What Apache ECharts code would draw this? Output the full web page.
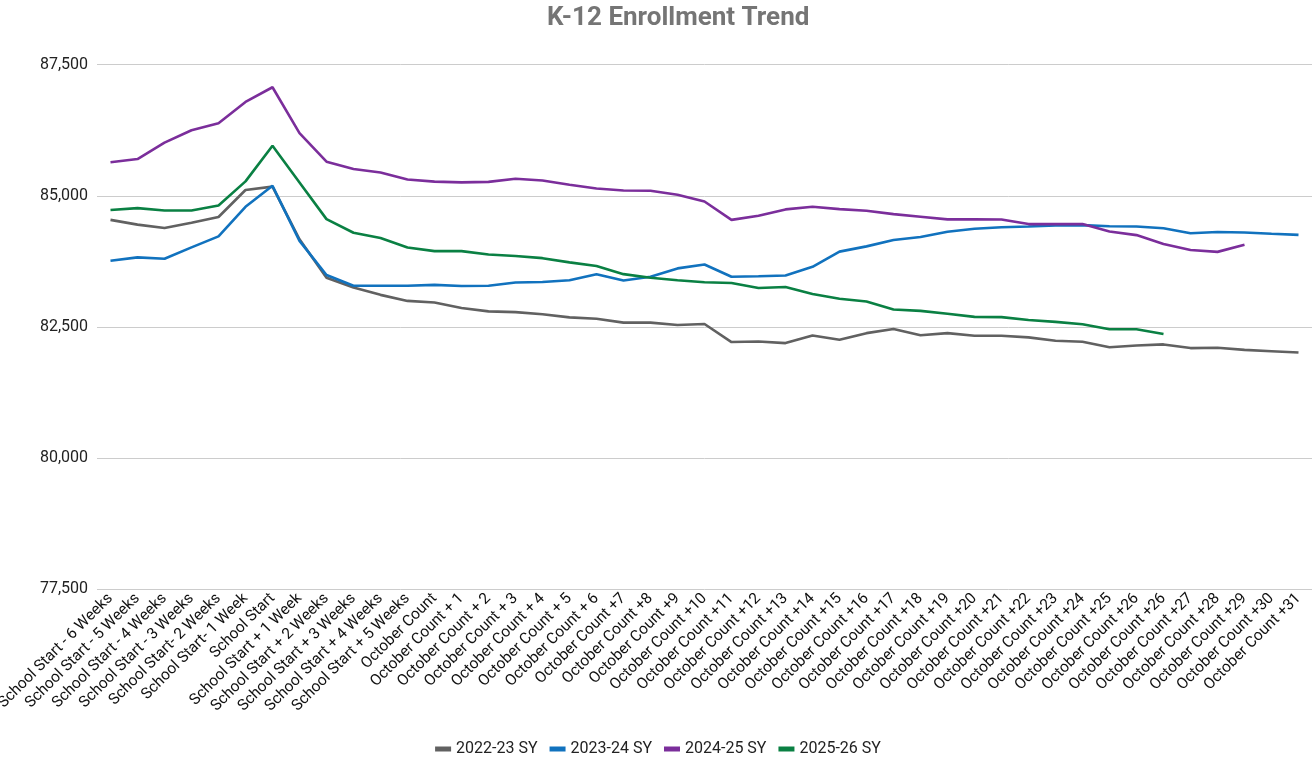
<!DOCTYPE html>
<html>
<head>
<meta charset="utf-8">
<script src="https://cdn.jsdelivr.net/npm/echarts@6/dist/echarts.min.js"></script>
<style>
  html, body { margin: 0; padding: 0; background: #fff; }
  #chart { width: 1316px; height: 764px; }
</style>
</head>
<body>
<div id="chart"></div>
<script>
// Reporting points: weeks around school start, then days after the October count
const categories = [
  'School Start - 6 Weeks', 'School Start - 5 Weeks', 'School Start - 4 Weeks', 'School Start - 3 Weeks',
  'School Start- 2 Weeks', 'School Start- 1 Week', 'School Start',
  'School Start + 1 Week', 'School Start + 2 Weeks', 'School Start + 3 Weeks', 'School Start + 4 Weeks', 'School Start + 5 Weeks',
  'October Count', 'October Count + 1', 'October Count + 2', 'October Count + 3', 'October Count + 4',
  'October Count + 5', 'October Count + 6', 'October Count +7', 'October Count +8', 'October Count +9',
  'October Count +10', 'October Count +11', 'October Count +12', 'October Count +13', 'October Count +14',
  'October Count +15', 'October Count +16', 'October Count +17', 'October Count +18', 'October Count +19',
  'October Count +20', 'October Count +21', 'October Count +22', 'October Count +23', 'October Count +24',
  'October Count +25', 'October Count +26', 'October Count +26', 'October Count +27', 'October Count +28',
  'October Count +29', 'October Count +30', 'October Count +31'
];

const sy2022 = [
  84540, 84450, 84385, 84485, 84595, 85110, 85175, 84170, 83435, 83250, 83110,
  82995, 82965, 82860, 82795, 82780, 82740, 82680, 82655, 82580, 82580, 82535,
  82555, 82210, 82220, 82190, 82335, 82255, 82380, 82460, 82340, 82380, 82330,
  82330, 82300, 82235, 82215, 82110, 82145, 82165, 82095, 82100, 82060, 82035, 82010
];

const sy2023 = [
  83760, 83825, 83800, 84015, 84225, 84790, 85190, 84140, 83490, 83285, 83285,
  83285, 83300, 83280, 83285, 83345, 83355, 83390, 83505, 83385, 83455, 83615,
  83690, 83455, 83465, 83480, 83645, 83935, 84035, 84155, 84215, 84315, 84370,
  84400, 84415, 84435, 84440, 84420, 84415, 84380, 84285, 84310, 84300, 84275, 84255
];

const sy2024 = [
  85640, 85700, 86015, 86250, 86385, 86790, 87070, 86195, 85650, 85510, 85445,
  85310, 85270, 85255, 85265, 85325, 85290, 85210, 85140, 85100, 85095, 85020,
  84890, 84540, 84620, 84740, 84790, 84745, 84715, 84650, 84600, 84550, 84550,
  84548, 84460, 84460, 84460, 84320, 84250, 84080, 83965, 83930, 84065
];

const sy2025 = [
  84730, 84765, 84720, 84720, 84815, 85275, 85955, 85255, 84555, 84295, 84195,
  84015, 83945, 83945, 83880, 83850, 83810, 83730, 83660, 83505, 83435, 83390,
  83350, 83335, 83240, 83260, 83125, 83035, 82985, 82830, 82805, 82750, 82690,
  82685, 82630, 82595, 82550, 82455, 82455, 82365
];

const seriesNames = ['2022-23 SY', '2023-24 SY', '2024-25 SY', '2025-26 SY'];
const seriesData = [sy2022, sy2023, sy2024, sy2025];
const seriesColors = ['#616161', '#1172be', '#7b2e9b', '#0a8043'];

const chart = echarts.init(document.getElementById('chart'));
chart.setOption({
  animation: false,
  backgroundColor: '#ffffff',
  title: {
    text: 'K-12 Enrollment Trend',
    left: 542,
    top: 0,
    textStyle: { fontFamily: 'Roboto', fontWeight: 'bold', fontSize: 26, color: '#757575' }
  },
  legend: {
    bottom: 2,
    left: 'center',
    icon: 'rect',
    itemWidth: 16,
    itemHeight: 5,
    itemGap: 12,
    textStyle: { fontFamily: 'Roboto', fontSize: 16, color: '#222' },
    data: seriesNames
  },
  grid: {
    left: 97, right: 4, top: 64.7, bottom: 175,
    containLabel: false,
    outerBoundsMode: 'none'
  },
  xAxis: {
    type: 'category',
    data: categories,
    boundaryGap: true,
    axisLine: { show: false },
    axisTick: { show: false },
    axisLabel: {
      interval: 0,
      rotate: 45,
      margin: 7,
      fontFamily: 'Roboto',
      fontSize: 15.5,
      color: '#111'
    }
  },
  yAxis: {
    type: 'value',
    min: 77500,
    max: 87500,
    interval: 2500,
    axisLine: { show: false },
    axisTick: { show: false },
    splitLine: { lineStyle: { color: '#cccccc', width: 1 } },
    axisLabel: {
      margin: 9,
      fontFamily: 'Roboto',
      fontSize: 16,
      color: '#222',
      formatter: v => v.toLocaleString('en-US')
    }
  },
  series: seriesNames.map((name, k) => ({
    name: name,
    type: 'line',
    data: seriesData[k],
    symbol: 'none',
    color: seriesColors[k],
    lineStyle: { width: 2.6, color: seriesColors[k] }
  }))
});
</script>
</body>
</html>
